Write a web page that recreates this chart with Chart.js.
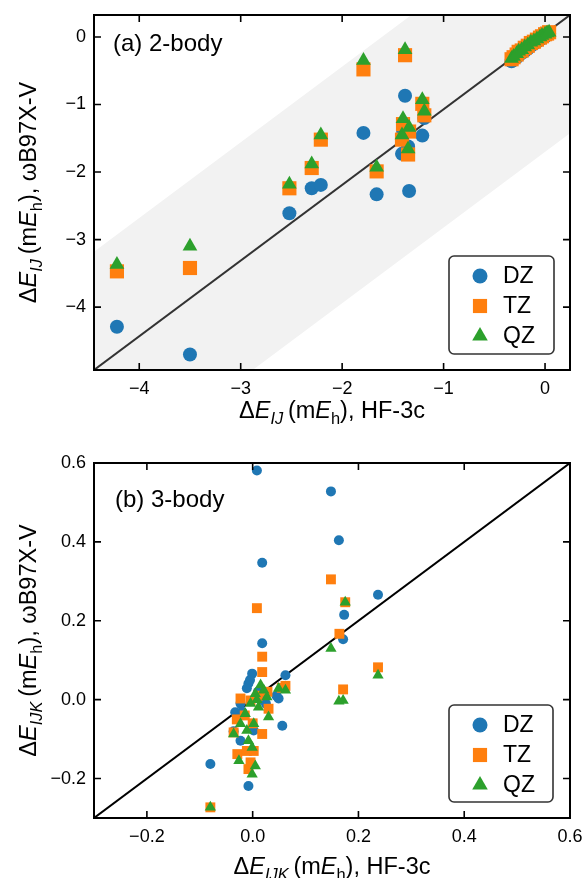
<!DOCTYPE html>
<html lang="en">
<head>
<meta charset="UTF-8">
<title>Two-body and three-body errors</title>
<script src="https://cdn.jsdelivr.net/npm/chart.js@4.4.1/dist/chart.umd.min.js"></script>
<style>
  body { margin: 0; background: #fff; }
  canvas { display: block; }
</style>
</head>
<body>
<canvas id="pairChart" width="587" height="440"></canvas>
<canvas id="trimerChart" width="587" height="438"></canvas>
<script>
// ---- data: (a) 2-body, HF-3c on x, wB97X-V with each basis on y
const seriesNames = ['DZ', 'TZ', 'QZ'];
const seriesColors = ['#1f77b4', '#ff7f0e', '#2ca02c'];
const seriesStyles = ['circle', 'rect', 'triangle'];

const pairHF3c = [-4.22, -3.50, -2.52, -2.30, -2.21, -1.79, -1.66, -1.38, -1.40, -1.41, -1.35, -1.34,
  -1.21, -1.19,
  -0.33, -0.31, -0.28, -0.26, -0.23, -0.20, -0.17, -0.14, -0.11, -0.08, -0.05, -0.03, 0.00, 0.02, 0.04];
const pairDZ = [-4.29, -4.70, -2.61, -2.24, -2.19, -1.42, -2.33, -0.87, -1.38, -1.73, -1.62, -2.28,
  -1.46, -1.20,
  -0.36, -0.33, -0.30, -0.27, -0.24, -0.21, -0.17, -0.13, -0.10, -0.07, -0.04, -0.02, 0.01, 0.03, 0.05];
const pairTZ = [-3.47, -3.42, -2.24, -1.94, -1.52, -0.48, -1.99, -0.27, -1.29, -1.52, -1.74, -1.40,
  -0.99, -1.16,
  -0.33, -0.30, -0.26, -0.22, -0.20, -0.16, -0.13, -0.09, -0.07, -0.04, -0.01, 0.01, 0.04, 0.05, 0.07];
const pairQZ = [-3.37, -3.10, -2.18, -1.88, -1.45, -0.35, -1.93, -0.19, -1.21, -1.45, -1.66, -1.34,
  -0.93, -1.10,
  -0.32, -0.29, -0.25, -0.21, -0.19, -0.15, -0.12, -0.08, -0.06, -0.03, 0.00, 0.02, 0.04, 0.06, 0.07];
const pairTicks = [-4, -3, -2, -1, 0];
const pairTickLabels = ['\u22124', '\u22123', '\u22122', '\u22121', '0'];

// ---- data: (b) 3-body
const trimerDZx = [0.008, 0.018, 0.018, 0.148, 0.163, 0.237, 0.173, 0.171, -0.080, -0.008, 0.062, 0.056,
  -0.001, 0.049, -0.008, -0.011, -0.023, -0.033, -0.036, -0.023, -0.020, 0.002, 0.045, 0.010, -0.005, 0.015, 0.025];
const trimerDZy = [0.581, 0.347, 0.143, 0.528, 0.404, 0.266, 0.215, 0.153, -0.163, -0.219, 0.062, -0.066,
  0.066, 0.003, 0.041, 0.029, -0.010, -0.032, -0.080, -0.104, -0.030, -0.078, 0.010, 0.020, 0.050, 0.000, -0.010];
const trimerTZx = [0.008, 0.018, 0.018, 0.148, 0.175, 0.164, 0.237, 0.171, -0.080, 0.062, 0.055, -0.036,
  -0.029, -0.004, -0.008, 0.030, -0.023, -0.004, 0.002, 0.018, 0.010, -0.015, 0.000, 0.028, -0.030, -0.011];
const trimerTZy = [0.232, 0.109, 0.070, 0.305, 0.247, 0.167, 0.082, 0.026, -0.273, 0.035, 0.030, -0.083,
  -0.138, -0.159, -0.176, -0.023, 0.003, -0.002, -0.130, -0.087, 0.010, -0.040, -0.060, 0.020, -0.050, -0.130];
const trimerQZx = [0.175, 0.148, 0.163, 0.171, 0.237, -0.080, 0.062, 0.049, -0.026, -0.001, 0.005, -0.036,
  -0.023, -0.014, -0.004, 0.005, 0.015, 0.021, 0.027, 0.030, -0.008, -0.001, -0.011, 0.002, 0.011, 0.008];
const trimerQZy = [0.247, 0.130, -0.004, -0.002, 0.062, -0.273, 0.024, 0.028, -0.155, -0.189, -0.168, -0.087,
  -0.061, -0.036, -0.010, 0.015, 0.037, 0.024, 0.007, -0.044, -0.104, -0.121, -0.078, -0.061, -0.019, 0.000];
const trimerTicks = [-0.2, 0.0, 0.2, 0.4, 0.6];
const trimerTickLabels = ['\u22120.2', '0.0', '0.2', '0.4', '0.6'];

const FONT = "'Liberation Sans', Arial, Helvetica, sans-serif";

function zipPoints(xs, ys) {
  return xs.map((x, i) => ({ x: x, y: ys[i] }));
}

function drawMarker(ctx, style, x, y, r) {
  ctx.beginPath();
  if (style === 'circle') {
    ctx.arc(x, y, r, 0, Math.PI * 2);
  } else if (style === 'rect') {
    const s = r * Math.SQRT1_2;
    ctx.rect(x - s, y - s, 2 * s, 2 * s);
  } else {
    ctx.moveTo(x, y - r);
    ctx.lineTo(x + r * Math.sin(2 * Math.PI / 3), y - r * Math.cos(2 * Math.PI / 3));
    ctx.lineTo(x + r * Math.sin(4 * Math.PI / 3), y - r * Math.cos(4 * Math.PI / 3));
    ctx.closePath();
  }
  ctx.fill();
}

// text with italic letters and subscripts, centred on (0,0) of the current transform
function drawRich(ctx, parts, size) {
  const fontOf = p => (p.it ? 'italic ' : '') + (p.sub ? size * 0.7 : size) + 'px ' + FONT;
  let total = 0;
  const widths = parts.map(p => { ctx.font = fontOf(p); const w = ctx.measureText(p.t).width; total += w; return w; });
  let cx = -total / 2;
  ctx.textBaseline = 'alphabetic';
  ctx.textAlign = 'left';
  parts.forEach((p, i) => {
    ctx.font = fontOf(p);
    ctx.fillText(p.t, cx, size * 0.36 + (p.sub ? size * 0.22 : 0));
    cx += widths[i];
  });
}

function decorPlugin(cfg) {
  return {
    id: 'decor',
    beforeDatasetsDraw(chart) {
      const { ctx, chartArea: a, scales: { x, y } } = chart;
      const px = f => x.getPixelForValue(x.min + f * (x.max - x.min));
      const py = f => y.getPixelForValue(y.min + f * (y.max - y.min));
      ctx.save();
      ctx.beginPath();
      ctx.rect(a.left, a.top, a.width, a.height);
      ctx.clip();
      if (cfg.band) {
        const w = cfg.band;
        ctx.beginPath();
        ctx.moveTo(px(0), py(0));
        ctx.lineTo(px(0), py(w));
        ctx.lineTo(px(1 - w), py(1));
        ctx.lineTo(px(1), py(1));
        ctx.lineTo(px(1), py(1 - w));
        ctx.lineTo(px(w), py(0));
        ctx.closePath();
        ctx.fillStyle = '#f2f2f2';
        ctx.fill();
      }
      ctx.beginPath();
      ctx.moveTo(px(0), py(0));
      ctx.lineTo(px(1), py(1));
      ctx.strokeStyle = cfg.lineColor;
      ctx.lineWidth = 2;
      ctx.stroke();
      ctx.restore();
    },
    afterDraw(chart) {
      const { ctx, chartArea: a, scales: { x, y } } = chart;
      ctx.save();
      // inward ticks on all four sides
      ctx.strokeStyle = '#000';
      ctx.lineWidth = 1.6;
      ctx.beginPath();
      x.ticks.forEach(t => {
        const p = x.getPixelForValue(t.value);
        ctx.moveTo(p, a.bottom); ctx.lineTo(p, a.bottom - 7);
        ctx.moveTo(p, a.top); ctx.lineTo(p, a.top + 7);
      });
      y.ticks.forEach(t => {
        const p = y.getPixelForValue(t.value);
        ctx.moveTo(a.left, p); ctx.lineTo(a.left + 7, p);
        ctx.moveTo(a.right, p); ctx.lineTo(a.right - 7, p);
      });
      ctx.stroke();
      ctx.lineWidth = 2;
      ctx.strokeRect(a.left, a.top, a.width, a.height);

      // legend box
      const L = cfg.legend;
      ctx.beginPath();
      ctx.roundRect(L.x, L.y, L.w, L.h, 5);
      ctx.fillStyle = '#fff';
      ctx.fill();
      ctx.strokeStyle = '#333';
      ctx.lineWidth = 1.6;
      ctx.stroke();
      chart.data.datasets.slice().sort((d1, d2) => d2.order - d1.order).forEach((ds, i) => {
        const ry = L.y + 20 + i * 30;
        ctx.fillStyle = ds.backgroundColor;
        drawMarker(ctx, ds.pointStyle, L.x + 31, ry, cfg.legendRadius[ds.pointStyle]);
        ctx.fillStyle = '#000';
        ctx.font = '23px ' + FONT;
        ctx.textBaseline = 'middle';
        ctx.textAlign = 'left';
        ctx.fillText(ds.label, L.x + 54, ry + 1);
      });

      // panel label
      ctx.fillStyle = '#000';
      ctx.font = '24px ' + FONT;
      ctx.textBaseline = 'middle';
      ctx.textAlign = 'left';
      ctx.fillText(cfg.panel, cfg.panelPos[0], cfg.panelPos[1]);

      // axis titles
      ctx.save();
      ctx.translate((a.left + a.right) / 2, cfg.xTitleY);
      drawRich(ctx, cfg.xTitle, 23.5);
      ctx.restore();
      ctx.save();
      ctx.translate(cfg.yTitleX, (a.top + a.bottom) / 2);
      ctx.rotate(-Math.PI / 2);
      drawRich(ctx, cfg.yTitle, 23.5);
      ctx.restore();
      ctx.restore();
    }
  };
}

function linearAxis(min, max, ticks, labels, fit) {
  return {
    type: 'linear',
    min: min,
    max: max,
    grid: { display: false },
    border: { display: false },
    afterBuildTicks: s => { s.ticks = ticks.map(v => ({ value: v })); },
    afterFit: fit,
    ticks: {
      font: { family: FONT, size: 18 },
      color: '#000',
      padding: 0,
      autoSkip: false,
      maxRotation: 0,
      callback: (v, i) => labels[i]
    }
  };
}

function buildDatasets(points, radii) {
  return seriesNames.map((name, i) => ({
    label: name,
    data: points[i],
    pointStyle: seriesStyles[i],
    pointRadius: radii[i],
    pointHoverRadius: radii[i],
    backgroundColor: seriesColors[i],
    borderWidth: 0,
    order: 3 - i
  }));
}

const deltaE = (sub) => [
  { t: '\u0394' }, { t: 'E', it: true }, { t: sub, it: true, sub: true }, { t: '\u2009(m' },
  { t: 'E', it: true }, { t: 'h', sub: true }
];

new Chart(document.getElementById('pairChart'), {
  type: 'scatter',
  data: {
    datasets: buildDatasets([
      zipPoints(pairHF3c, pairDZ),
      zipPoints(pairHF3c, pairTZ),
      zipPoints(pairHF3c, pairQZ)
    ], [7, 10, 8.5])
  },
  options: {
    responsive: false,
    animation: false,
    events: [],
    layout: { padding: { top: 15, right: 17, left: 0, bottom: 0 } },
    plugins: { legend: { display: false }, tooltip: { enabled: false } },
    scales: {
      x: linearAxis(-4.446, 0.246, pairTicks, pairTickLabels, s => { s.height = 70; }),
      y: linearAxis(-4.93, 0.325, pairTicks, pairTickLabels, s => { s.width = 94; })
    }
  },
  plugins: [decorPlugin({
    band: 1 / 3,
    lineColor: '#333',
    legend: { x: 449, y: 256, w: 105, h: 98 },
    legendRadius: { circle: 7.5, rect: 10, triangle: 9 },
    panel: '(a) 2-body',
    panelPos: [113, 44],
    xTitle: deltaE('IJ').concat([{ t: '), HF-3c' }]),
    xTitleY: 410,
    yTitle: deltaE('IJ').concat([{ t: '), \u03c9B97X-V' }]),
    yTitleX: 28
  })]
});

new Chart(document.getElementById('trimerChart'), {
  type: 'scatter',
  data: {
    datasets: buildDatasets([
      zipPoints(trimerDZx, trimerDZy),
      zipPoints(trimerTZx, trimerTZy),
      zipPoints(trimerQZx, trimerQZy)
    ], [5, 7, 6.5])
  },
  options: {
    responsive: false,
    animation: false,
    events: [],
    layout: { padding: { top: 23, right: 17, left: 0, bottom: 0 } },
    plugins: { legend: { display: false }, tooltip: { enabled: false } },
    scales: {
      x: linearAxis(-0.3, 0.6, trimerTicks, trimerTickLabels, s => { s.height = 60; }),
      y: linearAxis(-0.3, 0.6, trimerTicks, trimerTickLabels, s => { s.width = 94; })
    }
  },
  plugins: [decorPlugin({
    band: 0,
    lineColor: '#000',
    legend: { x: 449, y: 265, w: 104, h: 97 },
    legendRadius: { circle: 7.5, rect: 10, triangle: 9 },
    panel: '(b) 3-body',
    panelPos: [115, 60],
    xTitle: deltaE('IJK').concat([{ t: '), HF-3c' }]),
    xTitleY: 426,
    yTitle: deltaE('IJK').concat([{ t: '), \u03c9B97X-V' }]),
    yTitleX: 28
  })]
});
</script>
</body>
</html>
